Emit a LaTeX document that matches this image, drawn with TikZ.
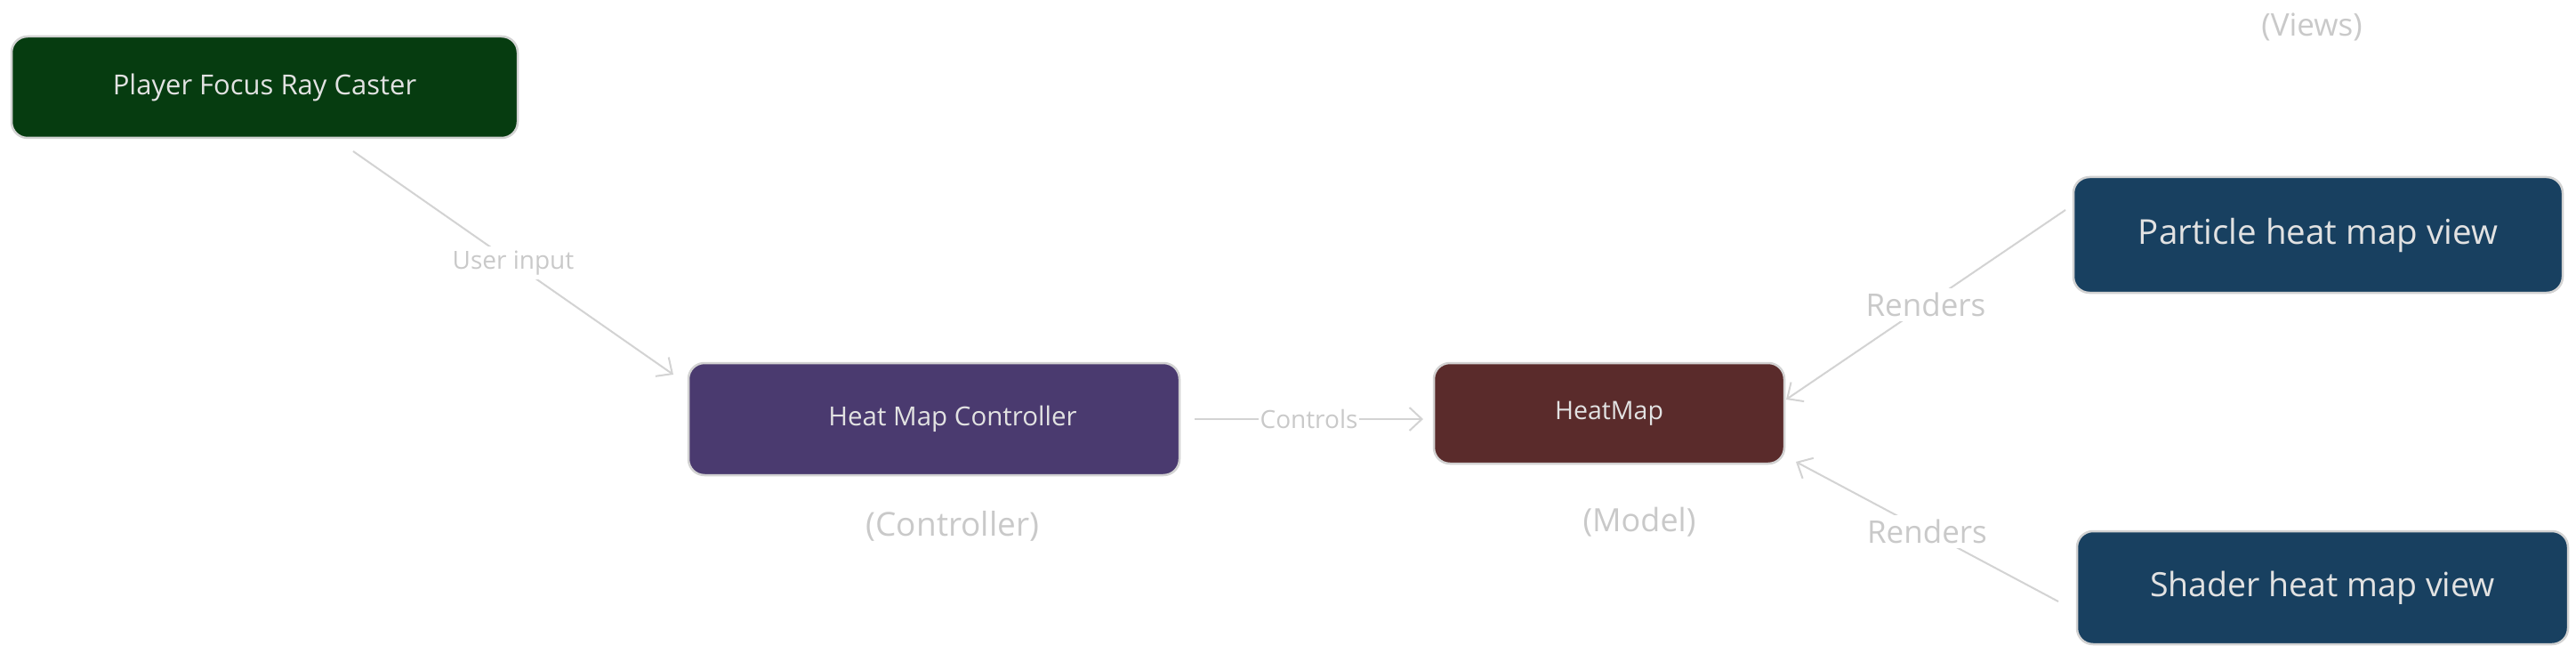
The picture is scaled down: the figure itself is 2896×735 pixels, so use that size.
\documentclass[tikz,border=0pt]{standalone}
\usepackage{fontspec}
\setmainfont{Open Sans}
\usetikzlibrary{arrows.meta}
\definecolor{edgegrey}{HTML}{D2D2D2}
\definecolor{linegrey}{HTML}{D3D3D3}
\definecolor{labelgrey}{HTML}{C9C9C9}
\definecolor{boxtext}{HTML}{E2E2E2}
\definecolor{greenfill}{HTML}{063C10}
\definecolor{purplefill}{HTML}{4A3A6F}
\definecolor{brownfill}{HTML}{5A2B2B}
\definecolor{bluefill}{HTML}{184060}
\begin{document}
\begin{tikzpicture}[x=1pt,y=-1pt,
  boxnode/.style={draw=edgegrey, line width=2.5pt, rounded corners=18pt, text=boxtext, inner sep=0pt},
  conn/.style={draw=linegrey, line width=2pt, -{Straight Barb[length=14pt,width=26pt,line width=2pt]}},
  edgelabel/.style={fill=white, text=labelgrey, inner sep=5pt},
  caption/.style={text=labelgrey}]
\useasboundingbox[fill=white] (0,0) rectangle (2896,735);

\node[boxnode, font=\fontsize{31}{36}\selectfont, fill=greenfill, minimum width=569pt, minimum height=114pt] (player) at (297.5,98) {Player Focus Ray Caster};
\node[boxnode, font=\fontsize{29.5}{35}\selectfont, fill=purplefill, minimum width=552pt, minimum height=126pt] (ctrl) at (1050,471) {\hspace*{42pt}Heat Map Controller};
\node[boxnode, font=\fontsize{28.5}{34}\selectfont, fill=brownfill, minimum width=394pt, minimum height=113pt] (heatmap) at (1809,464.5) {HeatMap};
\node[boxnode, font=\fontsize{38.5}{44}\selectfont, fill=bluefill, minimum width=550pt, minimum height=130pt] (particle) at (2606,264) {Particle heat map view};
\node[boxnode, font=\fontsize{37.5}{44}\selectfont, fill=bluefill, minimum width=552pt, minimum height=127pt] (shader) at (2611,660.5) {Shader heat map view};

\node[caption, font=\fontsize{37}{42}\selectfont] (ctrlcap) at (1071,591) {(Controller)};
\node[caption, font=\fontsize{36}{42}\selectfont] (modelcap) at (1843,587) {(Model)};
\node[caption, font=\fontsize{35}{42}\selectfont] (viewscap) at (2599,30) {(Views)};

\coordinate (ua1) at (397,170);
\coordinate (ua2) at (757,421);
\coordinate (ca1) at (1343,471);
\coordinate (ca2) at (1600,471);
\coordinate (ra1) at (2322,236);
\coordinate (ra2) at (2008,449);
\coordinate (rb1) at (2314,676);
\coordinate (rb2) at (2019,519);

\draw[conn] (ua1) -- node[edgelabel, font=\fontsize{28}{32}\selectfont] (ualabel) {User input} (ua2);
\draw[conn] (ca1) -- node[edgelabel, font=\fontsize{28}{32}\selectfont, inner sep=2pt] (calabel) {Controls} (ca2);
\draw[conn] (ra1) -- node[edgelabel, font=\fontsize{35}{40}\selectfont] (ralabel) {Renders} (ra2);
\draw[conn] (rb1) -- node[edgelabel, font=\fontsize{35}{40}\selectfont] (rblabel) {Renders} (rb2);
\end{tikzpicture}
\end{document}
